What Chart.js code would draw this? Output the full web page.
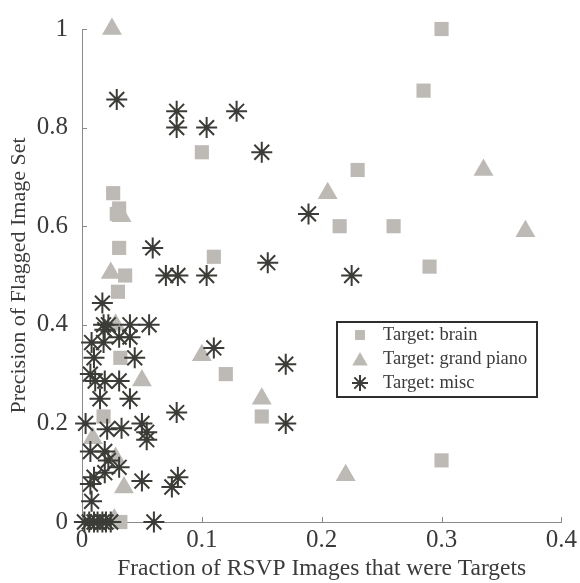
<!DOCTYPE html>
<html>
<head>
<meta charset="utf-8">
<script src="https://cdn.jsdelivr.net/npm/chart.js@4.4.1/dist/chart.umd.min.js"></script>
<style>
  html, body { margin: 0; padding: 0; background: #fff; }
  #wrap { width: 580px; height: 583px; position: relative; }
</style>
</head>
<body>
<div id="wrap"><canvas id="c" width="580" height="583"></canvas></div>
<script>
// ---- data (x = fraction of RSVP images that were targets, y = precision) ----
const seriesNames = ['Target: brain', 'Target: grand piano', 'Target: misc'];

const brainX = [0.300, 0.285, 0.100, 0.230, 0.026, 0.031, 0.029, 0.215, 0.260, 0.031, 0.110, 0.290, 0.036, 0.030, 0.032, 0.120, 0.150, 0.018, 0.300, 0.032];
const brainY = [1.000, 0.875, 0.750, 0.714, 0.667, 0.636, 0.625, 0.600, 0.600, 0.556, 0.538, 0.518, 0.500, 0.467, 0.333, 0.300, 0.214, 0.214, 0.125, 0.000];

const pianoX = [0.025, 0.335, 0.205, 0.033, 0.370, 0.024, 0.028, 0.100, 0.050, 0.150, 0.009, 0.028, 0.220, 0.035, 0.027];
const pianoY = [1.000, 0.714, 0.667, 0.620, 0.590, 0.505, 0.400, 0.338, 0.287, 0.250, 0.170, 0.130, 0.095, 0.070, 0.005];

const miscX = [0.029, 0.079, 0.129, 0.079, 0.104, 0.150, 0.189, 0.059, 0.155, 0.070, 0.080, 0.104, 0.225,
               0.017, 0.018, 0.022, 0.040, 0.056, 0.019, 0.031, 0.040, 0.008, 0.018, 0.110, 0.010, 0.044,
               0.170, 0.007, 0.011, 0.019, 0.031, 0.015, 0.040, 0.079, 0.003, 0.050, 0.170, 0.021, 0.033,
               0.054, 0.054, 0.007, 0.019, 0.022, 0.031, 0.019, 0.010, 0.007, 0.050, 0.080, 0.075, 0.008,
               0.002, 0.006, 0.010, 0.013, 0.017, 0.020, 0.024, 0.060];
const miscY = [0.857, 0.833, 0.833, 0.800, 0.800, 0.750, 0.625, 0.556, 0.526, 0.500, 0.500, 0.500, 0.500,
               0.444, 0.400, 0.400, 0.400, 0.400, 0.390, 0.375, 0.375, 0.364, 0.364, 0.353, 0.333, 0.333,
               0.320, 0.300, 0.286, 0.286, 0.286, 0.250, 0.250, 0.222, 0.200, 0.200, 0.200, 0.188, 0.190,
               0.182, 0.167, 0.143, 0.143, 0.125, 0.111, 0.100, 0.091, 0.077, 0.083, 0.091, 0.071, 0.042,
               0.000, 0.000, 0.000, 0.000, 0.000, 0.000, 0.000, 0.000];

const xTickLabels = ['0', '0.1', '0.2', '0.3', '0.4'];
const yTickLabels = ['0', '0.2', '0.4', '0.6', '0.8', '1'];
const xTitle = 'Fraction of RSVP Images that were Targets';
const yTitle = 'Precision of Flagged Image Set';

// ---- styling ----
const GREY = '#bdbab6';
const DARK = '#3b3c37';
const TEXT = '#3a3a3a';
const AXIS = '#8a8a8a';
const SERIF = '"Liberation Serif", "Times New Roman", serif';

const pts = (xs, ys) => xs.map((x, i) => ({ x: x, y: ys[i] }));

const styles = [
  { pointStyle: 'rect', radius: 10, bg: GREY, border: GREY, bw: 0 },
  { pointStyle: 'triangle', radius: 11.5, bg: GREY, border: GREY, bw: 0 },
  { pointStyle: 'star', radius: 10.5, bg: DARK, border: DARK, bw: 2 }
];

const datasets = [
  { label: seriesNames[0], data: pts(brainX, brainY), order: 2 },
  { label: seriesNames[1], data: pts(pianoX, pianoY), order: 1 },
  { label: seriesNames[2], data: pts(miscX, miscY), order: 0 }
].map((d, i) => Object.assign(d, {
  pointStyle: styles[i].pointStyle,
  pointRadius: styles[i].radius,
  pointHoverRadius: styles[i].radius,
  backgroundColor: styles[i].bg,
  borderColor: styles[i].border,
  pointBorderWidth: styles[i].bw,
  borderWidth: styles[i].bw,
  showLine: false,
  clip: false
}));

// inward tick marks
const innerTicks = {
  id: 'innerTicks',
  beforeDatasetsDraw(chart) {
    const { ctx, chartArea, scales } = chart;
    ctx.save();
    ctx.strokeStyle = AXIS;
    ctx.lineWidth = 1;
    const len = 5;
    scales.x.ticks.forEach((t, i) => {
      const px = Math.round(scales.x.getPixelForTick(i)) + 0.5;
      ctx.beginPath();
      ctx.moveTo(px, chartArea.bottom);
      ctx.lineTo(px, chartArea.bottom - len);
      ctx.stroke();
    });
    scales.y.ticks.forEach((t, i) => {
      const py = Math.round(scales.y.getPixelForTick(i)) + 0.5;
      ctx.beginPath();
      ctx.moveTo(chartArea.left, py);
      ctx.lineTo(chartArea.left + len, py);
      ctx.stroke();
    });
    ctx.restore();
  }
};

// legend drawn inside the plot
const boxLegend = {
  id: 'boxLegend',
  afterDraw(chart) {
    const { ctx } = chart;
    const box = { left: 337, top: 322, width: 200, height: 75 };
    ctx.save();
    ctx.fillStyle = '#ffffff';
    ctx.fillRect(box.left, box.top, box.width, box.height);
    ctx.strokeStyle = '#2e2e2e';
    ctx.lineWidth = 2;
    ctx.strokeRect(box.left, box.top, box.width, box.height);
    ctx.font = '18.5px ' + SERIF;
    ctx.textBaseline = 'middle';
    ctx.textAlign = 'left';
    const rowY = [335, 359, 383];
    const legendRadius = [7, 9, 8];
    chart.data.datasets.forEach((ds, i) => {
      const y = rowY[i];
      ctx.fillStyle = ds.backgroundColor;
      ctx.strokeStyle = ds.borderColor;
      ctx.lineWidth = ds.pointBorderWidth || 0;
      Chart.helpers.drawPoint(ctx, {
        pointStyle: ds.pointStyle,
        radius: legendRadius[i],
        rotation: 0,
        borderWidth: ds.pointBorderWidth
      }, 360, i === 1 ? y + 2 : y);
      ctx.fillStyle = TEXT;
      ctx.fillText(ds.label, 383, y);
    });
    ctx.restore();
  }
};

Chart.defaults.font.family = SERIF;
Chart.defaults.color = TEXT;

new Chart(document.getElementById('c'), {
  type: 'scatter',
  data: { datasets: datasets },
  options: {
    responsive: false,
    animation: false,
    events: [],
    layout: { padding: { top: 18, right: 18, left: 0, bottom: 0 } },
    plugins: {
      legend: { display: false },
      tooltip: { enabled: false }
    },
    scales: {
      x: {
        type: 'linear',
        min: 0, max: 0.4,
        afterFit(s) { s.height = 61; },
        afterBuildTicks(s) { s.ticks = xTickLabels.map(v => ({ value: parseFloat(v) })); },
        ticks: {
          padding: 3,
          font: { size: 25, family: SERIF },
          color: TEXT,
          callback: (v, i) => xTickLabels[i],
          maxRotation: 0
        },
        grid: { display: false, drawTicks: false },
        border: { display: true, color: AXIS, width: 1 },
        title: {
          display: true, text: xTitle, color: TEXT,
          font: { size: 23.5, family: SERIF },
          padding: { top: 0, bottom: 0 }
        }
      },
      y: {
        type: 'linear',
        min: 0, max: 1,
        afterFit(s) { s.width = 82; },
        afterBuildTicks(s) { s.ticks = yTickLabels.map(v => ({ value: parseFloat(v) })); },
        ticks: {
          padding: 14,
          font: { size: 25, family: SERIF },
          color: TEXT,
          callback: (v, i) => yTickLabels[i]
        },
        grid: { display: false, drawTicks: false },
        border: { display: true, color: AXIS, width: 1 },
        title: {
          display: true, text: yTitle, color: TEXT,
          font: { size: 22, family: SERIF },
          padding: { top: 6, bottom: 0 }
        }
      }
    }
  },
  plugins: [innerTicks, boxLegend]
});
</script>
</body>
</html>
